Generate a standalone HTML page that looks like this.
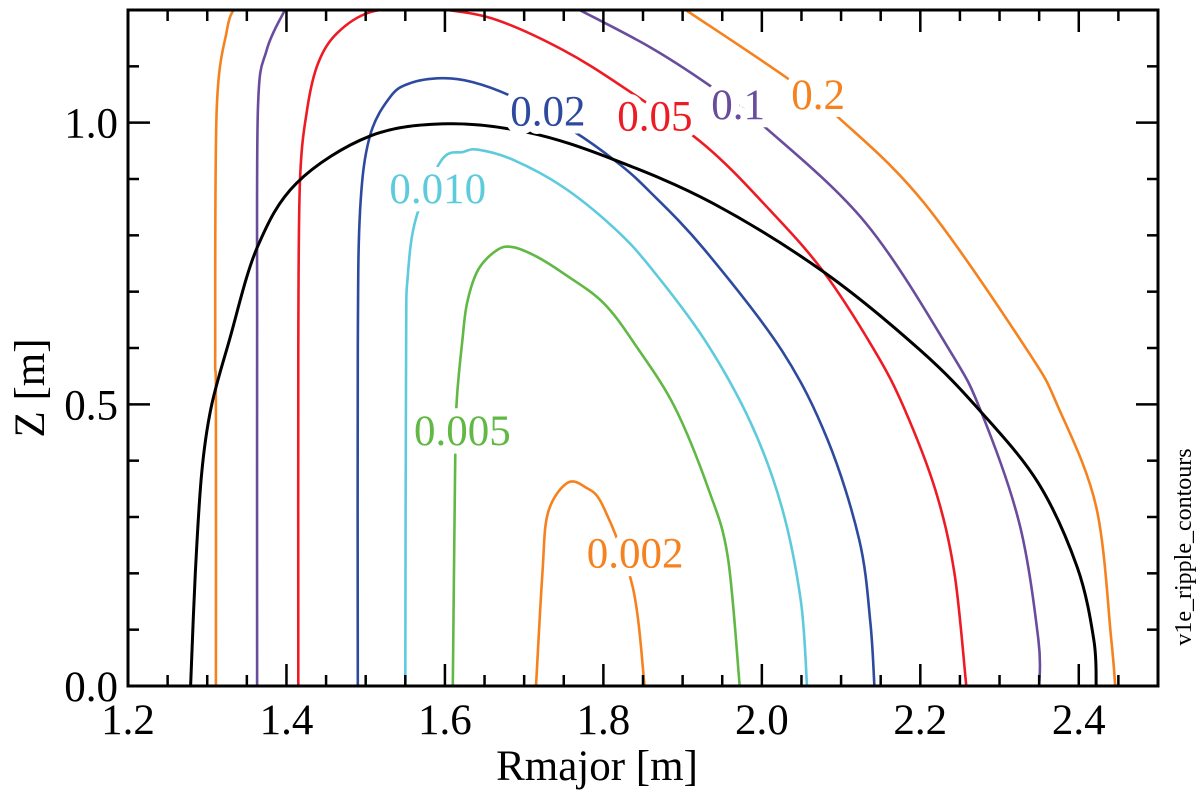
<!DOCTYPE html>
<html><head><meta charset="utf-8"><style>
html,body{margin:0;padding:0;background:#fff;}
svg{display:block;}
text{font-family:'Liberation Serif','Times New Roman','Nimbus Roman','DejaVu Serif',serif;}
</style></head><body>
<svg id="chart" width="1200" height="795" viewBox="0 0 1200 795" xmlns="http://www.w3.org/2000/svg">
<rect x="0" y="0" width="1200" height="795" fill="#fff"/>
<g id="marks"></g>
<g id="labels"></g>
<g id="axes"></g>
<text x="597" y="780" text-anchor="middle" font-size="43">Rmajor [m]</text>
<text transform="translate(44,388) rotate(-90)" text-anchor="middle" font-size="43">Z [m]</text>
<text transform="translate(1191,547) rotate(-90)" text-anchor="middle" font-size="24">v1e_ripple_contours</text>
</svg>
<script>
// Data (R [m], Z [m]); null breaks a line
const xTicks = [1.2, 1.4, 1.6, 1.8, 2.0, 2.2, 2.4];
const xTickLabels = ["1.2", "1.4", "1.6", "1.8", "2.0", "2.2", "2.4"];
const yTicks = [0.0, 0.5, 1.0];
const yTickLabels = ["0.0", "0.5", "1.0"];
const levelNames = ["0.2", "0.1", "0.05", "0.02", "0.010", "0.005", "0.002"];

const boundaryR = [1.279,1.285,1.293,1.305,1.328,1.363,1.413,1.505,1.603,1.707,1.812,1.938,2.078,2.200,2.277,2.349,2.398,2.419,2.422];
const boundaryZ = [0,0.20,0.378,0.495,0.614,0.778,0.893,0.976,0.998,0.982,0.935,0.857,0.735,0.596,0.486,0.360,0.211,0.082,0];

const c02R = [1.311,1.311,1.310,1.312,1.325,1.333,null,1.904,2.030,2.100,2.205,2.335,2.374,2.422,2.441,2.446];
const c02Z = [0,0.508,0.60,1.023,1.165,1.20,null,1.20,1.081,1.005,0.857,0.596,0.495,0.318,0.082,0];

const c01R = [1.363,1.363,1.364,1.375,1.398,null,1.770,1.859,1.933,2.004,2.131,2.237,2.277,2.325,2.349,2.350];
const c01Z = [0,0.60,1.023,1.129,1.20,null,1.20,1.134,1.067,0.992,0.822,0.596,0.486,0.289,0.082,0];

const c005R = [1.415,1.415,1.417,1.426,1.440,1.464,1.505,1.560,1.603,1.666,1.749,1.825,1.928,2.010,2.078,2.142,2.179,2.219,2.243,2.258];
const c005Z = [0,0.60,0.893,1.023,1.106,1.159,1.196,1.203,1.20,1.182,1.129,1.063,0.960,0.845,0.735,0.596,0.495,0.348,0.201,0];

const c002R = [1.490,1.490,1.493,1.505,1.531,1.556,1.596,1.635,1.685,1.762,1.817,1.859,1.928,2.025,2.083,2.123,2.137,2.142];
const c002Z = [0,0.60,0.845,0.975,1.046,1.070,1.079,1.072,1.046,0.985,0.930,0.877,0.774,0.596,0.437,0.259,0.112,0];

const c0010R = [1.550,1.551,1.553,1.564,1.596,1.623,1.642,1.686,1.749,1.812,1.859,1.928,1.986,2.025,2.049,2.057];
const c0010Z = [0,0.60,0.726,0.833,0.934,0.948,0.952,0.934,0.886,0.815,0.744,0.614,0.467,0.318,0.153,0];

const c0005R = [1.610,1.613,1.615,1.622,1.628,1.642,1.666,1.686,1.716,1.749,1.800,1.842,1.890,1.933,1.957,1.972];
const c0005Z = [0,0.401,0.508,0.614,0.680,0.739,0.774,0.779,0.762,0.733,0.680,0.602,0.495,0.348,0.229,0];

const c0002R = [1.715,1.723,1.730,1.754,1.777,1.800,1.837,1.852];
const c0002Z = [0,0.20,0.307,0.360,0.353,0.318,0.176,0];

// label anchor positions (data coordinates)
const labelR = [2.071, 1.970, 1.865, 1.730, 1.591, 1.622, 1.840];
const labelZ = [1.051, 1.033, 1.013, 1.022, 0.884, 0.454, 0.237];

const NS = "http://www.w3.org/2000/svg";
const L = 128, R = 1158, T = 10, B = 686;
const xMin = 1.2, xMax = 2.5, yMin = 0, yMax = 1.2;
function xs(v){ return L + (v - xMin) / (xMax - xMin) * (R - L); }
function ys(v){ return B - (v - yMin) / (yMax - yMin) * (B - T); }

function smoothSeg(pts){
  if (pts.length < 2) return "";
  let d = "M" + pts[0][0].toFixed(1) + "," + pts[0][1].toFixed(1);
  for (let i = 0; i < pts.length - 1; i++){
    const p0 = pts[i - 1] || pts[i], p1 = pts[i], p2 = pts[i + 1], p3 = pts[i + 2] || pts[i + 1];
    const c1x = p1[0] + (p2[0] - p0[0]) / 6, c1y = p1[1] + (p2[1] - p0[1]) / 6;
    const c2x = p2[0] - (p3[0] - p1[0]) / 6, c2y = p2[1] - (p3[1] - p1[1]) / 6;
    d += "C" + c1x.toFixed(1) + "," + c1y.toFixed(1) + " " + c2x.toFixed(1) + "," + c2y.toFixed(1) + " " + p2[0].toFixed(1) + "," + p2[1].toFixed(1);
  }
  return d;
}
function pathFrom(rs, zs){
  let d = "", seg = [];
  for (let i = 0; i <= rs.length; i++){
    if (i === rs.length || rs[i] === null || zs[i] === null){ d += smoothSeg(seg); seg = []; continue; }
    seg.push([xs(rs[i]), ys(zs[i])]);
  }
  return d;
}

const svg = document.getElementById("chart");
const marks = document.getElementById("marks");
const series = [
  {r:c02R, z:c02Z, c:"#f5821f", n:"contour-0.2"},
  {r:c01R, z:c01Z, c:"#6a4c9c", n:"contour-0.1"},
  {r:c005R, z:c005Z, c:"#ed1c24", n:"contour-0.05"},
  {r:c002R, z:c002Z, c:"#2e4a9e", n:"contour-0.02"},
  {r:c0010R, z:c0010Z, c:"#5ecbdd", n:"contour-0.010"},
  {r:c0005R, z:c0005Z, c:"#61b845", n:"contour-0.005"},
  {r:c0002R, z:c0002Z, c:"#f5821f", n:"contour-0.002"}
];
const clip = document.createElementNS(NS, "clipPath");
clip.setAttribute("id", "plotclip");
const cr = document.createElementNS(NS, "rect");
cr.setAttribute("x", L); cr.setAttribute("y", T);
cr.setAttribute("width", R - L); cr.setAttribute("height", B - T);
clip.appendChild(cr);
svg.insertBefore(clip, marks);
marks.setAttribute("clip-path", "url(#plotclip)");

series.forEach(function(s){
  const p = document.createElementNS(NS, "path");
  p.setAttribute("d", pathFrom(s.r, s.z));
  p.setAttribute("fill", "none");
  p.setAttribute("stroke", s.c);
  p.setAttribute("stroke-width", "2.6");
  p.setAttribute("stroke-linejoin", "round");
  
  
  marks.appendChild(p);
});
const bp = document.createElementNS(NS, "path");
bp.setAttribute("d", pathFrom(boundaryR, boundaryZ));
bp.setAttribute("fill", "none");
bp.setAttribute("stroke", "#000");
bp.setAttribute("stroke-width", "3");


marks.appendChild(bp);

const labels = document.getElementById("labels");
levelNames.forEach(function(txt, i){
  const t = document.createElementNS(NS, "text");
  t.setAttribute("x", xs(labelR[i]));
  t.setAttribute("y", ys(labelZ[i]) + 15);
  t.setAttribute("text-anchor", "middle");
  t.setAttribute("font-size", "43");
  t.setAttribute("fill", series[i].c);
  t.setAttribute("stroke", "#fff");
  t.setAttribute("stroke-width", "16");
  t.setAttribute("paint-order", "stroke");
  
  
  t.textContent = txt;
  labels.appendChild(t);
});

const axes = document.getElementById("axes");
function line(x1,y1,x2,y2,w){
  const l = document.createElementNS(NS, "line");
  l.setAttribute("x1", x1); l.setAttribute("y1", y1);
  l.setAttribute("x2", x2); l.setAttribute("y2", y2);
  l.setAttribute("stroke", "#000"); l.setAttribute("stroke-width", w);
  axes.appendChild(l);
  return l;
}
const frame = document.createElementNS(NS, "rect");
frame.setAttribute("x", L); frame.setAttribute("y", T);
frame.setAttribute("width", R - L); frame.setAttribute("height", B - T);
frame.setAttribute("fill", "none"); frame.setAttribute("stroke", "#000");
frame.setAttribute("stroke-width", "3");


axes.appendChild(frame);

for (let k = 0; k <= 26; k++){
  const v = xMin + k * 0.05;
  const len = (k % 4 === 0) ? 22 : 11;
  const x = xs(v);
  const a = line(x, B, x, B - len, 2.5);
  
  
  const b = line(x, T, x, T + len, 2.5);
  
  
}
for (let k = 0; k <= 12; k++){
  const v = k * 0.1;
  const len = (k % 5 === 0) ? 22 : 11;
  const y = ys(v);
  const a = line(L, y, L + len, y, 2.5);
  
  
  const b = line(R, y, R - len, y, 2.5);
  
  
}
xTicks.forEach(function(v, i){
  const t = document.createElementNS(NS, "text");
  t.setAttribute("x", xs(v)); t.setAttribute("y", 734);
  t.setAttribute("text-anchor", "middle"); t.setAttribute("font-size", "43");
  
  
  t.textContent = xTickLabels[i];
  axes.appendChild(t);
});
yTicks.forEach(function(v, i){
  const t = document.createElementNS(NS, "text");
  t.setAttribute("x", 118); t.setAttribute("y", ys(v) + 15);
  t.setAttribute("text-anchor", "end"); t.setAttribute("font-size", "43");
  
  
  t.textContent = yTickLabels[i];
  axes.appendChild(t);
});
</script>
</body></html>
